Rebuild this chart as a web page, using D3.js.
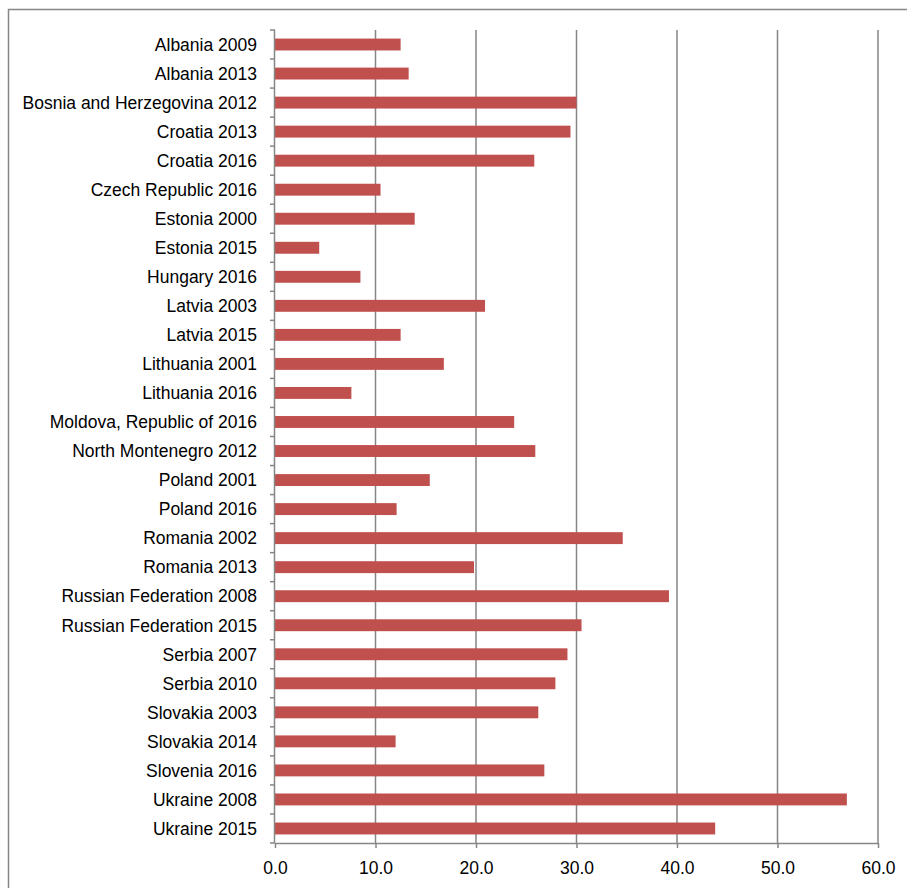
<!DOCTYPE html>
<html>
<head>
<meta charset="utf-8">
<script src="https://cdn.jsdelivr.net/npm/d3@7"></script>
<style>
  body { margin: 0; background: #fff; }
  svg { display: block; }
  text { font-family: "Liberation Sans", Arial, sans-serif; fill: #000; }
</style>
</head>
<body>
<svg id="chart" width="907" height="888"></svg>
<script>
var categories = [
    "Albania 2009", "Albania 2013", "Bosnia and Herzegovina 2012", "Croatia 2013",
    "Croatia 2016", "Czech Republic 2016", "Estonia 2000", "Estonia 2015",
    "Hungary 2016", "Latvia 2003", "Latvia 2015", "Lithuania 2001",
    "Lithuania 2016", "Moldova, Republic of 2016", "North Montenegro 2012",
    "Poland 2001", "Poland 2016", "Romania 2002", "Romania 2013",
    "Russian Federation 2008", "Russian Federation 2015", "Serbia 2007",
    "Serbia 2010", "Slovakia 2003", "Slovakia 2014", "Slovenia 2016",
    "Ukraine 2008", "Ukraine 2015"
];
var values = [
    12.5, 13.3, 30.0, 29.4,
    25.8, 10.5, 13.9, 4.4,
    8.5, 20.9, 12.5, 16.8,
    7.6, 23.8, 25.9,
    15.4, 12.1, 34.6, 19.8,
    39.2, 30.5, 29.1,
    27.9, 26.2, 12.0, 26.8,
    56.9, 43.8
];
var xTicks = [0, 10, 20, 30, 40, 50, 60];

var svg = d3.select("#chart");
var plotLeft = 275, plotRight = 878, plotTop = 30, plotBottom = 843;
var grey = "#868686";
var fontSize = 17.5;

// outer frame (only left and top edges visible)
svg.append("path")
    .attr("d", "M8.5,888V9.5H907")
    .attr("fill", "none")
    .attr("stroke", grey)
    .attr("stroke-width", 1.5);

var x = d3.scaleLinear().domain([0, 60]).range([plotLeft, plotRight]);
var y = d3.scaleBand().domain(categories).range([plotTop, plotBottom])
    .paddingInner(0.59).paddingOuter(0.295);

// gridlines
svg.append("g").selectAll("line")
    .data(xTicks.slice(1))
    .join("line")
    .attr("x1", d => x(d)).attr("x2", d => x(d))
    .attr("y1", plotTop).attr("y2", plotBottom)
    .attr("stroke", grey)
    .attr("stroke-width", 1.5);

// bars
svg.append("g").selectAll("rect")
    .data(values)
    .join("rect")
    .attr("x", x(0))
    .attr("y", (d, i) => y(categories[i]))
    .attr("width", d => x(d) - x(0))
    .attr("height", y.bandwidth())
    .attr("fill", "#C0504D");

// x axis
var xAxis = svg.append("g")
    .attr("transform", "translate(0," + plotBottom + ")")
    .call(d3.axisBottom(x).tickValues(xTicks).tickFormat(d3.format(".1f"))
        .tickSizeInner(5).tickSizeOuter(0).tickPadding(14));
xAxis.select(".domain").attr("stroke", grey).attr("stroke-width", 1.5);
xAxis.selectAll(".tick line").attr("stroke", grey).attr("stroke-width", 1.5);
xAxis.selectAll("text").attr("font-size", fontSize).style("font-family", "Liberation Sans, Arial, sans-serif");

// y axis: line and tick marks at category boundaries
var step = y.step();
var bounds = d3.range(categories.length + 1).map(i => plotTop + i * step);
var yg = svg.append("g");
yg.append("line")
    .attr("x1", plotLeft - 0.5).attr("x2", plotLeft - 0.5)
    .attr("y1", plotTop).attr("y2", plotBottom)
    .attr("stroke", grey).attr("stroke-width", 1.5);
yg.selectAll("line.tk")
    .data(bounds)
    .join("line")
    .attr("class", "tk")
    .attr("x1", plotLeft - 5).attr("x2", plotLeft)
    .attr("y1", d => d).attr("y2", d => d)
    .attr("stroke", grey).attr("stroke-width", 1.5);

yg.selectAll("text")
    .data(categories)
    .join("text")
    .attr("x", 257)
    .attr("y", d => y(d) + y.bandwidth() / 2)
    .attr("dy", "0.36em")
    .attr("text-anchor", "end")
    .attr("font-size", fontSize)
    .text(d => d);
</script>
</body>
</html>
